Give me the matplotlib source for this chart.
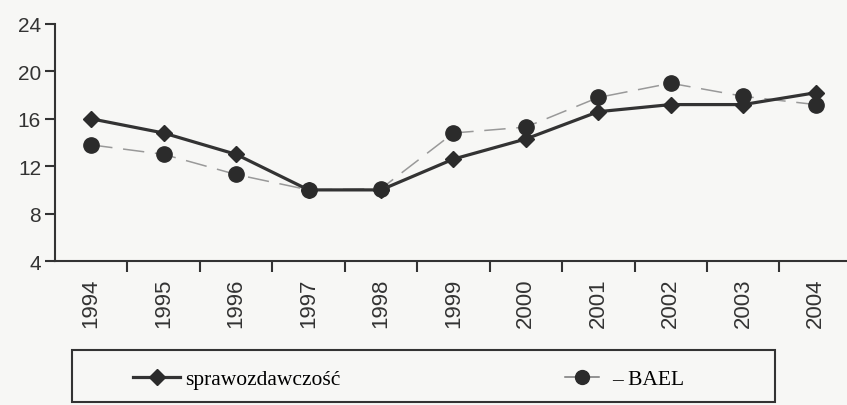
import matplotlib
matplotlib.use("Agg")
import matplotlib.pyplot as plt
from matplotlib.patches import Rectangle
from matplotlib.lines import Line2D

# lata i dwie serie stopy bezrobocia
years = ['1994', '1995', '1996', '1997', '1998', '1999', '2000', '2001', '2002', '2003', '2004']
sprawozdawczosc = [16.0, 14.8, 13.0, 10.0, 10.0, 12.6, 14.3, 16.6, 17.2, 17.2, 18.2]
bael = [13.8, 13.0, 11.3, 10.0, 10.1, 14.8, 15.3, 17.8, 19.0, 17.9, 17.2]
y_ticks = [4, 8, 12, 16, 20, 24]

bg = '#f7f7f5'
ink = '#333333'
W, H = 847, 406

fig = plt.figure(figsize=(W / 100, H / 100), dpi=100, facecolor=bg)
ax = fig.add_axes([55 / W, 1 - 262 / H, 1 - 55 / W + 0.01, (262 - 25) / H])
ax.set_facecolor(bg)

x = list(range(len(years)))
ax.plot(x, bael, color='#999999', lw=1.1, dashes=(14, 7), marker='o', ms=11,
        mfc='#2b2b2b', mec='#2b2b2b', zorder=2)
l_spr, = ax.plot(x, sprawozdawczosc, color=ink, lw=2.3, marker='D', ms=8,
                 mfc='#2b2b2b', mec='#2b2b2b', zorder=3)

ax.set_xlim(-0.5, len(years) - 0.45)
ax.set_ylim(4, 24)
ax.set_yticks(y_ticks)
ax.set_xticks([i + 0.5 for i in range(len(years))])
ax.set_xticklabels([])
ax.set_xticks(x, minor=True)
ax.set_xticklabels(years, minor=True, rotation=90, fontsize=16,
                   family='Liberation Sans', color=ink)
ax.tick_params(axis='x', which='minor', length=0, pad=12)
ax.tick_params(axis='x', which='major', length=8, width=1.5, color=ink)
ax.tick_params(axis='y', length=7, width=1.5, color=ink, labelsize=15,
               labelcolor=ink, pad=3)
for lab in ax.get_yticklabels():
    lab.set_family('Liberation Sans')

for s in ['top', 'right']:
    ax.spines[s].set_visible(False)
for s in ['left', 'bottom']:
    ax.spines[s].set_color(ink)
    ax.spines[s].set_linewidth(1.5)

# ramka legendy i dwa wpisy rozstawione osobno
fig.patches.append(Rectangle((72 / W, 3 / H), (775 - 72) / W, 52 / H,
                             transform=fig.transFigure, fill=False,
                             edgecolor=ink, lw=1.5))
font = {'family': 'Liberation Serif', 'size': 15.5}
h_bael = Line2D([], [], color='#777777', lw=1.1, marker='o', ms=10,
                mfc='#2b2b2b', mec='#2b2b2b')
fig.legend([l_spr], ['sprawozdawczość'], loc='center left',
           bbox_to_anchor=(133 / W, 26 / H), frameon=False, prop=font,
           handlelength=2.2, handletextpad=0.2, borderpad=0, borderaxespad=0)
fig.legend([h_bael], ['– BAEL'], loc='center left',
           bbox_to_anchor=(565 / W, 26 / H), frameon=False, prop=font,
           handlelength=1.6, handletextpad=0.6, borderpad=0, borderaxespad=0)

fig.savefig('out.png', dpi=100, facecolor=bg)
